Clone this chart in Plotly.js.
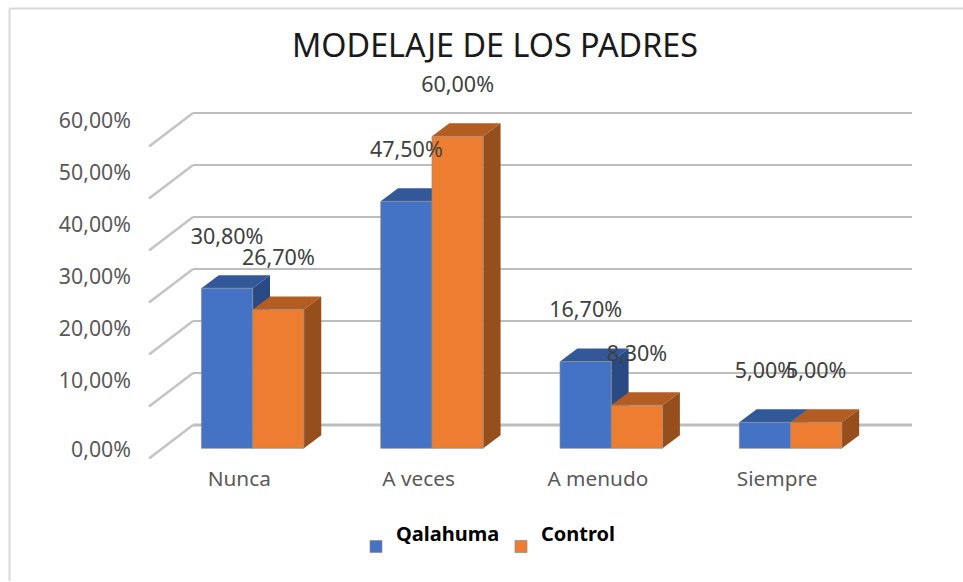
<!DOCTYPE html>
<html>
<head>
<meta charset="utf-8">
<script src="https://cdn.plot.ly/plotly-3.0.1.min.js"></script>
<style>html,body{margin:0;padding:0;background:#fff}#c{width:963px;height:582px}</style>
</head>
<body>
<div id="c"></div>
<script>
var categories = ["Nunca", "A veces", "A menudo", "Siempre"];
var qalahuma = [30.8, 47.5, 16.7, 5.0];
var control = [26.7, 60.0, 8.3, 5.0];
var axisValues = [0, 10, 20, 30, 40, 50, 60];
var axisLabels = ["0,00%", "10,00%", "20,00%", "30,00%", "40,00%", "50,00%", "60,00%"];

var FONT = '"Noto Sans", sans-serif';
var xs = categories.map(function (_, i) { return i; });
var barW = 0.286;
var depthX = 17.3 / 179.3, depthY = 13 / 5.2;      // bar depth (data units)
var wallX = 44 / 179.3, wallY = 33.5 / 5.2;        // side wall run of a gridline
var backY = 23.3 / 5.2;                            // rise of the back wall
var backLeft = (193 - 252.7) / 179.3, backRight = (912 - 252.7) / 179.3;
var labelLift = 9.6;
var plotTop = 60, plotBottom = 462, plotLeft = 132, plotRight = 930;
var plotH = plotBottom - plotTop, plotW = plotRight - plotLeft;

function fmt(v) { return v.toFixed(2).replace('.', ',') + '%'; }
function poly(pts, fill) {
  return {
    type: 'path', xref: 'x', yref: 'y', layer: 'below', fillcolor: fill,
    line: { width: 0 },
    path: 'M' + pts.map(function (p) { return p[0] + ',' + p[1]; }).join('L') + 'Z'
  };
}
function depthFaces(vals, offL, offR, topCol, sideCol) {
  var out = [];
  vals.forEach(function (v, i) {
    var l = i + offL, r = i + offR;
    out.push(poly([[l, v], [r, v], [r + depthX, v + depthY], [l + depthX, v + depthY]], topCol));
    out.push(poly([[r, 0], [r, v], [r + depthX, v + depthY], [r + depthX, depthY]], sideCol));
  });
  return out;
}

var frameX = (9.5 - plotLeft) / plotW, frameTop = (plotBottom - 8.5) / plotH;
var shapes = [
  { type: 'line', xref: 'paper', yref: 'paper', x0: frameX, x1: frameX, y0: (plotBottom - 581) / plotH, y1: frameTop, line: { color: '#d9d9d9', width: 2 }, layer: 'below' },
  { type: 'line', xref: 'paper', yref: 'paper', x0: frameX, x1: (963 - plotLeft) / plotW, y0: frameTop, y1: frameTop, line: { color: '#d9d9d9', width: 2 }, layer: 'below' }
];
axisValues.forEach(function (v) {
  var y = v + backY;
  shapes.push({ type: 'line', xref: 'x', yref: 'y', layer: 'below', x0: backLeft, x1: backRight, y0: y, y1: y, line: { color: '#bdbdbd', width: v === 0 ? 3 : 2 } });
  shapes.push({ type: 'line', xref: 'x', yref: 'y', layer: 'below', x0: backLeft, x1: backLeft - wallX, y0: y, y1: y - wallY, line: { color: '#c4c4c4', width: 2.5 } });
});
shapes = shapes
  .concat(depthFaces(qalahuma, -barW, 0, '#325899', '#2A4A84'))
  .concat(depthFaces(control, 0, barW, '#B45D22', '#964F1C'));

function barTrace(name, vals, col) {
  return {
    type: 'bar', name: name, x: xs, y: vals,
    marker: { color: col, line: { color: 'rgba(140,140,140,0.7)', width: 1 } },
    hoverinfo: 'y'
  };
}
function labelTrace(vals, off) {
  return {
    type: 'scatter', mode: 'text', showlegend: false, hoverinfo: 'skip',
    x: xs.map(function (i) { return i + off; }),
    y: vals.map(function (v) { return v + labelLift; }),
    text: vals.map(fmt), textposition: 'middle center',
    textfont: { family: FONT, size: 21.5, color: '#404040' }, cliponaxis: false
  };
}

var data = [
  barTrace('<b>Qalahuma</b><br>&nbsp;', qalahuma, '#4472C4'),
  barTrace('<b>Control</b><br>&nbsp;', control, '#ED7D31'),
  labelTrace(qalahuma, -barW / 2),
  labelTrace(control, barW / 2)
];

var layout = {
  width: 963, height: 582,
  margin: { l: plotLeft, r: 963 - plotRight, t: plotTop, b: 582 - plotBottom, pad: 0 },
  paper_bgcolor: '#fff', plot_bgcolor: 'rgba(0,0,0,0)',
  font: { family: FONT, color: '#595959', size: 20 },
  title: { text: 'MODELAJE DE LOS PADRES', x: 495 / 963, xanchor: 'center', y: 1 - 46 / 582, yanchor: 'middle', font: { family: FONT, size: 32.3, color: '#1a1a1a' } },
  barmode: 'group', bargap: 1 - 2 * barW, bargroupgap: 0,
  showlegend: true,
  legend: { orientation: 'h', xref: 'container', yref: 'container', x: 356 / 963, xanchor: 'left', y: 1 - 514 / 582, yanchor: 'top', valign: 'middle', font: { family: FONT, size: 20, color: '#000' }, bgcolor: 'rgba(0,0,0,0)', entrywidth: 100, entrywidthmode: 'pixels', traceorder: 'normal' },
  xaxis: {
    range: [(plotLeft - 252.7) / 179.3, (plotRight - 252.7) / 179.3], showgrid: false, zeroline: false, showline: false, ticks: '',
    tickmode: 'array', tickvals: xs.map(function (i) { return i - 0.075; }), ticktext: categories,
    tickfont: { family: FONT, size: 20.8, color: '#595959' }, ticklabelstandoff: 2
  },
  yaxis: {
    range: [(448.3 - plotBottom) / 5.2, (448.3 - plotTop) / 5.2], showgrid: false, zeroline: false, showline: false, ticks: '',
    tickmode: 'array', tickvals: axisValues.map(function (v) { return v === 0 ? -0.2 : v + 3.1; }), ticktext: axisLabels,
    tickfont: { family: FONT, size: 21.3, color: '#595959' }
  },
  shapes: shapes
};
Plotly.newPlot('c', data, layout, { displayModeBar: false, responsive: false });
</script>
</body>
</html>
